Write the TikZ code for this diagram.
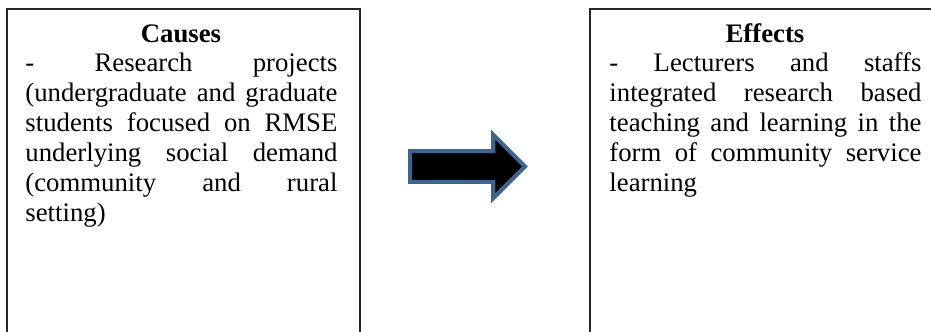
\documentclass[tikz,border=0pt]{standalone}
\usepackage{fontspec}
\setmainfont{Liberation Serif}
\usetikzlibrary{shapes.arrows}
\definecolor{arrowrim}{RGB}{62,100,145}

\begin{document}
\begin{tikzpicture}[x=0.4487pt,y=-0.4487pt,
    panel/.style={draw=black!85,line width=0.8pt,minimum width=158.4pt,
      minimum height=170pt,inner sep=0pt,anchor=north west},
    heading/.style={font=\fontsize{12}{13.4}\selectfont\bfseries,inner sep=0pt,anchor=base},
    body/.style={font=\fontsize{12}{13.4}\selectfont,
      execute at begin node={\hyphenpenalty=10000\relax\tolerance=10000\relax\hbadness=10000\relax},
      text width=140pt,align=justify,inner sep=0pt,anchor=base west},
    bigarrow/.style={single arrow,draw=arrowrim,fill=black,line width=1.8pt,
      minimum height=51.6pt,inner xsep=0pt,inner ysep=5.95pt,
      single arrow head extend=7.4pt,anchor=tail}]
        \useasboundingbox (0,0) rectangle (931,332);
        \clip (0,0) rectangle (931,332);
        \node [panel] (causesbox) at (6,8) {};
        \node [panel] (effectsbox) at (589,8) {};
        \node [heading] (causes) at (181,42.7) {Causes};
        \node [body] (causestext) at (25,71.7) {- Research projects\linebreak
          (undergraduate and graduate\linebreak students focused on RMSE\linebreak
          underlying social demand\linebreak (community and rural\linebreak setting)};
        \node [heading] (effects) at (765,42.7) {Effects};
        \node [body] (effectstext) at (609,71.7) {- Lecturers and staffs\linebreak
          integrated research based\linebreak teaching and learning in the\linebreak
          form of community service\linebreak learning};
        \node [bigarrow] (flow) at (408,166.5) {};
      \end{tikzpicture}
\end{document}
